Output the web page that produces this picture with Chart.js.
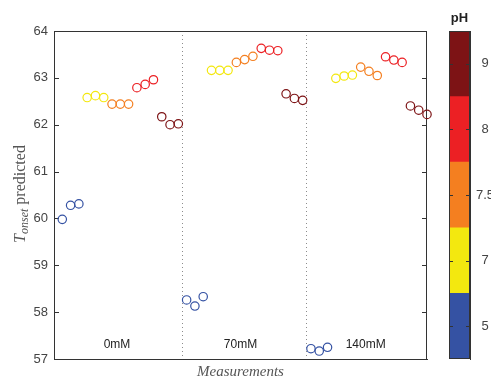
<!DOCTYPE html>
<html>
<head>
<meta charset="utf-8">
<script src="https://cdn.jsdelivr.net/npm/chart.js@4/dist/chart.umd.min.js"></script>
<style>
  html, body { margin: 0; padding: 0; background: #fff; }
  #wrap { position: relative; width: 491px; height: 381px; overflow: hidden; }
  #main { position: absolute; left: 0; top: 0; }
  #cbar { position: absolute; left: 440px; top: 0; }
</style>
</head>
<body>
<div id="wrap">
  <canvas id="main" width="440" height="381"></canvas>
  <canvas id="cbar" width="60" height="381"></canvas>
</div>
<script>
// salt groups, pH levels and their colours
const salts = ['0mM', '70mM', '140mM'];
const saltLabelX = [7.6, 22.5, 37.6];
const phLevels = ['5', '7', '7.5', '8', '9'];
const phColors = ['#3552a3', '#f3e80f', '#f47f20', '#ec2024', '#7d1315'];

// Tonset predicted, rows = pH (5, 7, 7.5, 8, 9), 3 replicates each
const tonset0mM = [
  [59.98, 60.28, 60.31],
  [62.58, 62.62, 62.58],
  [62.44, 62.44, 62.44],
  [62.79, 62.86, 62.96],
  [62.17, 62.00, 62.02]
];
const tonset70mM = [
  [58.26, 58.13, 58.33],
  [63.16, 63.16, 63.16],
  [63.33, 63.39, 63.46],
  [63.63, 63.59, 63.58],
  [62.66, 62.56, 62.52]
];
const tonset140mM = [
  [57.22, 57.17, 57.25],
  [62.99, 63.04, 63.06],
  [63.23, 63.14, 63.05],
  [63.45, 63.38, 63.33],
  [62.40, 62.31, 62.22]
];
const groupDividers = [15.5, 30.5];
const yTicks = [57, 58, 59, 60, 61, 62, 63, 64];

const allGroups = [tonset0mM, tonset70mM, tonset140mM];

// one dataset per pH, x = measurement number 1..45
const datasets = phLevels.map((ph, k) => {
  const pts = [];
  allGroups.forEach((grp, g) => {
    grp[k].forEach((v, r) => {
      pts.push({ x: g * 15 + k * 3 + r + 1, y: v });
    });
  });
  return {
    label: 'pH ' + ph,
    data: pts,
    showLine: false,
    clip: false,
    pointStyle: 'circle',
    pointRadius: 4.2,
    pointBorderWidth: 1.2,
    pointBorderColor: phColors[k],
    pointBackgroundColor: 'rgba(0,0,0,0)'
  };
});

// box, inward ticks, y title and salt labels
const mainDecor = {
  id: 'mainDecor',
  beforeDatasetsDraw(chart) {
    const { ctx, chartArea: a, scales: { y } } = chart;
    ctx.save();
    ctx.strokeStyle = '#333';
    ctx.lineWidth = 1;
    ctx.beginPath();
    ctx.moveTo(a.left, a.top + 0.5);
    ctx.lineTo(a.right, a.top + 0.5);
    ctx.moveTo(a.right - 0.5, a.top);
    ctx.lineTo(a.right - 0.5, a.bottom);
    yTicks.forEach(v => {
      const py = Math.round(y.getPixelForValue(v)) + 0.5;
      ctx.moveTo(a.left, py);
      ctx.lineTo(a.left + 5, py);
      ctx.moveTo(a.right, py);
      ctx.lineTo(a.right - 5, py);
    });
    ctx.stroke();
    ctx.restore();
  },
  afterDraw(chart) {
    const { ctx, scales: { x, y } } = chart;
    ctx.save();
    // group labels
    ctx.fillStyle = '#222';
    ctx.font = '12px "Liberation Sans", Arial, sans-serif';
    ctx.textAlign = 'center';
    ctx.textBaseline = 'middle';
    salts.forEach((s, i) => {
      ctx.fillText(s, x.getPixelForValue(saltLabelX[i]), y.getPixelForValue(57.31));
    });

    // y title: T_onset predicted
    ctx.translate(21, 194);
    ctx.rotate(-Math.PI / 2);
    ctx.fillStyle = '#555';
    ctx.textAlign = 'left';
    ctx.textBaseline = 'middle';
    const fT = 'italic 16px "Liberation Serif", serif';
    const fSub = 'italic 12px "Liberation Serif", serif';
    const fRest = '16px "Liberation Serif", serif';
    ctx.font = fT; const wT = ctx.measureText('T').width;
    ctx.font = fSub; const wS = ctx.measureText('onset').width;
    ctx.font = fRest; const wR = ctx.measureText(' predicted').width;
    let cx = -(wT + wS + wR) / 2;
    ctx.font = fT; ctx.fillText('T', cx, 0); cx += wT;
    ctx.font = fSub; ctx.fillText('onset', cx, 4); cx += wS;
    ctx.font = fRest; ctx.fillText(' predicted', cx, 0);
    ctx.restore();
  }
};

new Chart(document.getElementById('main'), {
  type: 'scatter',
  data: { datasets },
  options: {
    responsive: false,
    animation: false,
    layout: { padding: { top: 31, right: 13, left: 0, bottom: 0 } },
    plugins: { legend: { display: false }, tooltip: { enabled: false } },
    scales: {
      x: {
        type: 'linear',
        min: 0,
        max: 45,
        afterBuildTicks: s => { s.ticks = groupDividers.map(v => ({ value: v })); },
        afterFit: s => { s.height = 22; },
        ticks: { display: false },
        grid: { color: '#8c8c8c', lineWidth: 1, drawTicks: false },
        border: { color: '#333', width: 1, dash: [1, 3] },
        title: {
          display: true,
          text: 'Measurements',
          color: '#555',
          padding: 0,
          font: { family: '"Liberation Serif", serif', style: 'italic', size: 15 }
        }
      },
      y: {
        min: 57,
        max: 64,
        afterBuildTicks: s => { s.ticks = yTicks.map(v => ({ value: v })); },
        afterFit: s => { s.width = 54; },
        ticks: {
          color: '#444',
          padding: 6,
          font: { family: '"Liberation Sans", Arial, sans-serif', size: 13 }
        },
        grid: { drawOnChartArea: false, drawTicks: false },
        border: { color: '#333', width: 1 }
      }
    }
  },
  plugins: [mainDecor]
});

// colour bar
const cbarDecor = {
  id: 'cbarDecor',
  afterDraw(chart) {
    const { ctx, chartArea: a, scales: { y } } = chart;
    ctx.save();
    ctx.strokeStyle = '#333';
    ctx.lineWidth = 1;
    ctx.strokeRect(a.left + 0.5, a.top + 0.5, a.right - a.left - 1, a.bottom - a.top - 1);
    ctx.beginPath();
    phLevels.forEach((p, k) => {
      const py = Math.round(y.getPixelForValue(k + 0.5)) + 0.5;
      ctx.moveTo(a.left, py);
      ctx.lineTo(a.left + 4, py);
      ctx.moveTo(a.right, py);
      ctx.lineTo(a.right - 4, py);
    });
    ctx.stroke();
    ctx.fillStyle = '#222';
    ctx.font = 'bold 13px "Liberation Sans", Arial, sans-serif';
    ctx.textAlign = 'center';
    ctx.textBaseline = 'middle';
    ctx.fillText('pH', (a.left + a.right) / 2, 18);
    ctx.restore();
  }
};

new Chart(document.getElementById('cbar'), {
  type: 'bar',
  data: {
    labels: ['pH'],
    datasets: phLevels.map((p, k) => ({
      label: p,
      data: [1],
      backgroundColor: phColors[k],
      borderWidth: 0,
      barPercentage: 1,
      categoryPercentage: 1
    }))
  },
  options: {
    responsive: false,
    animation: false,
    layout: { padding: { top: 31, left: 9, bottom: 22, right: 0 } },
    plugins: { legend: { display: false }, tooltip: { enabled: false } },
    scales: {
      x: { display: false, stacked: true },
      y: {
        stacked: true,
        position: 'right',
        min: 0,
        max: 5,
        afterBuildTicks: s => { s.ticks = phLevels.map((p, k) => ({ value: k + 0.5 })); },
        afterFit: s => { s.width = 30; },
        ticks: {
          callback: (v, i) => phLevels[i],
          color: '#444',
          padding: 6,
          crossAlign: 'center',
          font: { family: '"Liberation Sans", Arial, sans-serif', size: 13 }
        },
        grid: { drawOnChartArea: false, drawTicks: false },
        border: { color: '#333', width: 1 }
      }
    }
  },
  plugins: [cbarDecor]
});
</script>
</body>
</html>
